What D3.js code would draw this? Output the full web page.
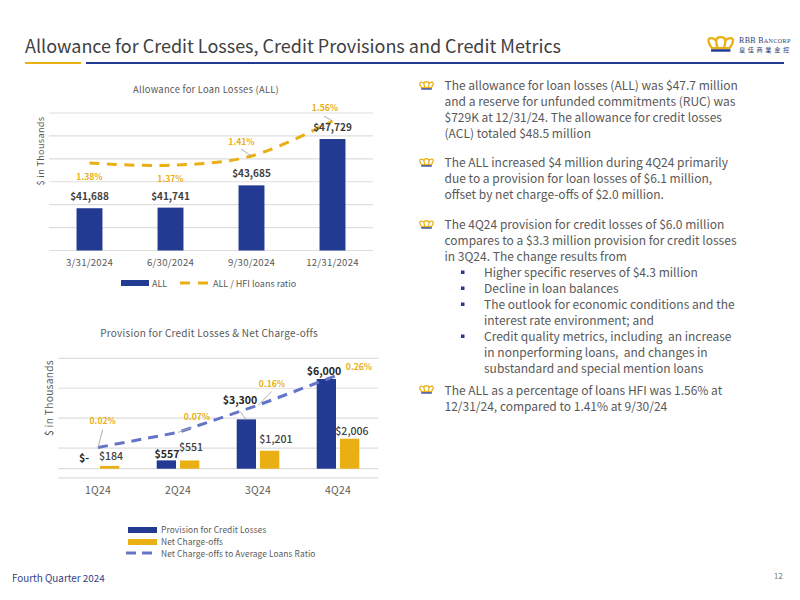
<!DOCTYPE html>
<html><head><meta charset="utf-8">
<script src="https://cdn.jsdelivr.net/npm/d3@7"></script>
<style>
html,body{margin:0;padding:0;background:#fff}
svg{display:block}
text{font-family:"Noto Sans CJK SC",sans-serif}
</style></head><body>
<svg id="c" width="800" height="600"></svg>
<script>
const dates=["3/31/2024","6/30/2024","9/30/2024","12/31/2024"];
const allValues=[41688,41741,43685,47729];
const allLabels=["$41,688","$41,741","$43,685","$47,729"];
const allRatio=[1.38,1.37,1.41,1.56];
const allRatioLabels=["1.38%","1.37%","1.41%","1.56%"];
const allTicks=[38000,40000,42000,44000,46000,48000,50000];
const quarters=["1Q24","2Q24","3Q24","4Q24"];
const provision=[0,557,3300,6000];
const provisionLabels=["$-","$557","$3,300","$6,000"];
const chargeoffs=[184,551,1201,2006];
const chargeoffLabels=["$184","$551","$1,201","$2,006"];
const ncoRatio=[0.02,0.07,0.16,0.26];
const ncoRatioLabels=["0.02%","0.07%","0.16%","0.26%"];
const provTicks=[-620,1380,3380,5380,7380];
const para1=["The allowance for loan losses (ALL) was $47.7 million","and a reserve for unfunded commitments (RUC) was","$729K at 12/31/24. The allowance for credit losses","(ACL) totaled $48.5 million"];
const para2=["The ALL increased $4 million during 4Q24 primarily","due to a provision for loan losses of $6.1 million,","offset by net charge-offs of $2.0 million."];
const para3=["The 4Q24 provision for credit losses of $6.0 million","compares to a $3.3 million provision for credit losses","in 3Q24. The change results from"];
const sub=[["Higher specific reserves of $4.3 million"],["Decline in loan balances"],["The outlook for economic conditions and the","interest rate environment; and"],["Credit quality metrics, including  an increase","in nonperforming loans,  and changes in","substandard and special mention loans"]];
const para4=["The ALL as a percentage of loans HFI was 1.56% at","12/31/24, compared to 1.41% at 9/30/24"];

const BLUE="#233a93",GOLD="#e9af13",LINEBLUE="#6475c8",GRID="#dedede",TXT="#595959",DARK="#404040";
const svg=d3.select("#c");
const t=(x,y,s,size,fill,o={})=>svg.append("text").attr("x",x).attr("y",y).attr("font-size",size).attr("fill",fill)
  .attr("text-anchor",o.a||"start").attr("font-weight",o.w||400).attr("letter-spacing",o.ls||null).attr("transform",o.r?`rotate(${o.r} ${x} ${y})`:null).style("white-space","pre").text(s);

// header
t(25,52.5,"Allowance for Credit Losses, Credit Provisions and Credit Metrics",18,"#404040");
svg.append("rect").attr("x",25).attr("y",62).attr("width",56).attr("height",2).attr("fill",GOLD);
svg.append("rect").attr("x",86).attr("y",62).attr("width",698).attr("height",2).attr("fill",BLUE);

function crown(x,y,s,fill,base){
  const g=svg.append("g").attr("transform",`translate(${x},${y}) scale(${s})`).attr("fill","none");
  g.append("path").attr("stroke",fill).attr("stroke-width",2.2)
   .attr("d","M4,12 C0,7 -1,2 3,2 C6,2 7,3 8,5 C8,2 10,1 12.5,1 C15,1 17,2 17,5 C18,3 19,2 22,2 C26,2 25,7 21,12 Z M8,5 C8,8 9,10 9.5,12 M17,5 C17,8 16,10 15.5,12");
  g.append("rect").attr("x",3).attr("y",13).attr("width",19).attr("height",2.4).attr("fill",base);
}
crown(708,36,1.02,GOLD,BLUE);
const lg=svg.append("text").attr("x",739).attr("y",43).attr("font-size",8).attr("fill","#33406f").style("font-family","Liberation Serif").attr("letter-spacing",.3);
lg.append("tspan").text("RBB B");
lg.append("tspan").text("ANCORP").attr("font-size",6.2);
svg.append("text").attr("x",739).attr("y",51.5).attr("font-size",6.2).attr("letter-spacing",2.6).attr("fill","#33406f").text("皇佳商業金控");

// chart 1
t(206,93,"Allowance for Loan Losses (ALL)",9.4,TXT,{a:"middle",ls:.25});
const x1=d3.scaleBand().domain(dates).range([49,373]).paddingInner(.68).paddingOuter(.34);
const y1=d3.scaleLinear().domain([38000,50000]).range([250.5,113]);
const r1=d3.scaleLinear().domain([1.41,1.56]).range([156,121]);
const c1=d=>x1(d)+x1.bandwidth()/2;
const grid=(ticks,x0,x1_,y)=>svg.append("g").selectAll("line").data(ticks).join("line").attr("x1",x0).attr("x2",x1_).attr("y1",d=>y(d)).attr("y2",d=>y(d)).attr("stroke",GRID).attr("stroke-width",1.2);
grid(allTicks,49,373,y1);
svg.append("g").selectAll("rect").data(allValues).join("rect").attr("x",(d,i)=>x1(dates[i])).attr("width",x1.bandwidth()).attr("y",d=>y1(d)).attr("height",d=>y1(38000)-y1(d)).attr("fill",BLUE);
const axis1=svg.append("g").attr("transform","translate(0,250.5)").call(d3.axisBottom(x1).tickSize(0).tickPadding(9));
axis1.select(".domain").remove();
axis1.selectAll("text").attr("font-size",9.6).attr("fill",TXT).attr("letter-spacing",.25).style("font-family","'Noto Sans CJK SC'");
t(44,151,"$ in Thousands",9.2,TXT,{a:"middle",r:-90,ls:.3});
const line1=d3.line().x((d,i)=>c1(dates[i])).y(d=>r1(d)).curve(d3.curveCatmullRom.alpha(.5));
svg.append("path").datum(allRatio).attr("d",line1).attr("fill","none").attr("stroke",GOLD).attr("stroke-width",3).attr("stroke-dasharray","10 7.5");
const allRatOff=[[0,17],[0,16.7],[-10,-11],[-7.5,-10]];
allLabels.forEach((s,i)=>t(c1(dates[i]),y1(allValues[i])-8,s,10,DARK,{a:"middle",w:700}));
allRatioLabels.forEach((s,i)=>t(c1(dates[i])+allRatOff[i][0],r1(allRatio[i])+allRatOff[i][1],s,8.6,GOLD,{a:"middle",w:700}));
const lead=(a,b,c,d)=>svg.append("line").attr("x1",a).attr("y1",b).attr("x2",c).attr("y2",d).attr("stroke","#a6a6a6").attr("stroke-width",.9);
lead(c1(dates[2])-10.5,r1(1.41)-7,c1(dates[2]),r1(1.41));
lead(c1(dates[3])-8.5,r1(1.56)-5,c1(dates[3]),r1(1.56));
// legend 1
svg.append("rect").attr("x",121).attr("y",280).attr("width",28).attr("height",6).attr("fill",BLUE);
t(152,287,"ALL",9,TXT);
svg.append("line").attr("x1",180).attr("x2",208).attr("y1",283).attr("y2",283).attr("stroke",GOLD).attr("stroke-width",3).attr("stroke-dasharray","10 8");
t(213,287,"ALL / HFI loans ratio",9,TXT);

// chart 2
t(209,336.5,"Provision for Credit Losses & Net Charge-offs",10,TXT,{a:"middle",ls:.25});
const x2=d3.scaleBand().domain(quarters).range([58,378]);
const y2=d3.scaleLinear().domain([0,6000]).range([468.7,379]);
const r2=d3.scaleLinear().domain([0.02,0.26]).range([447.5,375]);
const c2=d=>x2(d)+x2.bandwidth()/2;
grid(provTicks,58,378,y2);
grid([0],58,378,y2);
const bw=19.3,gap=4;
svg.append("g").selectAll("rect").data(provision).join("rect").attr("x",(d,i)=>c2(quarters[i])-gap/2-bw).attr("width",bw).attr("y",d=>y2(d)).attr("height",d=>y2(0)-y2(d)).attr("fill",BLUE);
svg.append("g").selectAll("rect").data(chargeoffs).join("rect").attr("x",(d,i)=>c2(quarters[i])+gap/2).attr("width",bw).attr("y",d=>y2(d)).attr("height",d=>y2(0)-y2(d)).attr("fill",GOLD);
const axis2=svg.append("g").attr("transform","translate(0,478)").call(d3.axisBottom(x2).tickSize(0).tickPadding(9));
axis2.select(".domain").remove();
axis2.selectAll("text").attr("font-size",10.4).attr("fill",TXT).attr("letter-spacing",.3).style("font-family","'Noto Sans CJK SC'");
t(53,398,"$ in Thousands",10.2,TXT,{a:"middle",r:-90,ls:.3});
const line2=d3.line().x((d,i)=>c2(quarters[i])).y(d=>r2(d));
svg.append("path").datum(ncoRatio).attr("d",line2).attr("fill","none").attr("stroke",LINEBLUE).attr("stroke-width",3).attr("stroke-dasharray","10 7");
const provOff=[[-14,-6.7],[-11,-2.7],[-18,-15.4],[-14,-4]];
provisionLabels.forEach((s,i)=>t(c2(quarters[i])+provOff[i][0],y2(provision[i])+provOff[i][1],s,10.6,"#262626",{a:"middle",w:700}));
const coOff=[[13,-6.3],[13,-9.5],[18,-7.7],[14,-3.7]];
chargeoffLabels.forEach((s,i)=>t(c2(quarters[i])+coOff[i][0],y2(chargeoffs[i])+coOff[i][1],s,10.6,DARK,{a:"middle",w:500}));
const ncoOff=[[4.7,-23.5],[19,-12.4],[14,-18.2],[21,-5]];
ncoRatioLabels.forEach((s,i)=>t(c2(quarters[i])+ncoOff[i][0],r2(ncoRatio[i])+ncoOff[i][1],s,8.6,GOLD,{a:"middle",w:700}));
lead(c2(quarters[0]),r2(.02),c2(quarters[0])+4.7,r2(.02)-18);
lead(c2(quarters[1]),r2(.07),c2(quarters[1])+14,r2(.07)-5);
lead(c2(quarters[2]),r2(.16),c2(quarters[2])+13.7,r2(.16)-13.5);
lead(c2(quarters[2])-18,y2(3300)-8,c2(quarters[2])-12,y2(3300));
// legend 2
svg.append("rect").attr("x",128).attr("y",527).attr("width",29).attr("height",6).attr("fill",BLUE);
t(161,533,"Provision for Credit Losses",8.4,TXT,{ls:.1});
svg.append("rect").attr("x",128).attr("y",539).attr("width",29).attr("height",6).attr("fill",GOLD);
t(161,544.5,"Net Charge-offs",8.4,TXT,{ls:.1});
svg.append("line").attr("x1",126).attr("x2",157).attr("y1",553).attr("y2",553).attr("stroke",LINEBLUE).attr("stroke-width",3).attr("stroke-dasharray","10 6");
t(161,556.5,"Net Charge-offs to Average Loans Ratio",8.4,TXT,{ls:.1});

// right text
const LH=16, FS=12;
const block=(lines,x,y)=>lines.forEach((s,i)=>t(x,y+i*LH,s,FS,TXT));
const bullet=y=>crown(419.5,y-8,.56,GOLD,BLUE);
bullet(89);block(para1,444.5,89.5);
bullet(166);block(para2,444.5,167);
bullet(228);block(para3,444.5,229);
let yy=277;
sub.forEach(lines=>{svg.append("rect").attr("x",461).attr("y",yy-6.5).attr("width",3.5).attr("height",3.5).attr("fill",BLUE);block(lines,484,yy);yy+=lines.length*LH;});
bullet(393);block(para4,444.5,394.5);

// footer
t(12,582,"Fourth Quarter 2024",9.9,"#2f3f86");
t(783,579,"12",8.4,"#7f7f7f",{a:"end"});
</script></body></html>
